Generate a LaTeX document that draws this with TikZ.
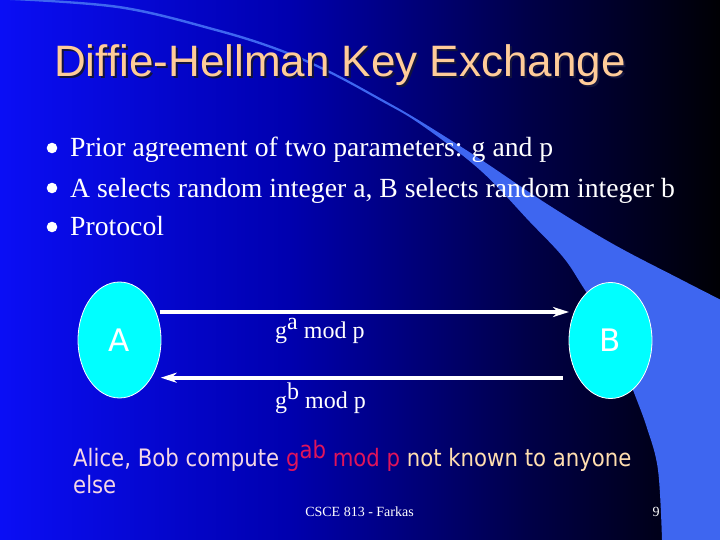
\documentclass[tikz,border=0pt]{standalone}
\usepackage{fontspec}
\setmainfont{Liberation Serif}
\newfontfamily\titlefont{Liberation Sans}
\newfontfamily\tahomalike[FakeStretch=0.885]{DejaVu Sans}
\newfontfamily\letterfont{DejaVu Sans}
\usetikzlibrary{arrows.meta,calc,shapes.geometric}
\definecolor{bgA}{RGB}{10,14,245}
\definecolor{bgB}{RGB}{0,0,175}
\definecolor{bgC}{RGB}{0,0,70}
\definecolor{bgD}{RGB}{0,0,4}
\definecolor{bandc}{RGB}{62,102,240}
\definecolor{titlec}{RGB}{255,204,153}
\definecolor{titleshadowc}{RGB}{20,20,60}
\definecolor{alicec}{RGB}{245,215,228}
\definecolor{gabc}{RGB}{225,20,90}
\definecolor{notc}{RGB}{255,222,175}
\definecolor{partyc}{RGB}{0,255,255}
\pgfdeclarehorizontalshading{slidebg}{100bp}{color(0bp)=(bgA); color(25bp)=(bgA); color(45bp)=(bgB); color(62bp)=(bgC); color(75bp)=(bgD); color(100bp)=(bgD)}
\newcommand{\shadowed}[1]{\rlap{\kern2pt\raisebox{-2pt}{\textcolor{titleshadowc}{#1}}}\textcolor{titlec}{#1}}
\tikzset{
  party/.style={ellipse, draw=white, line width=0.8pt, fill=partyc, minimum width=83pt, minimum height=116pt, inner sep=0pt, text=white, font=\letterfont\fontsize{31}{31}\selectfont},
  msg/.style={draw=white, line width=4pt, -{Stealth[length=16pt,width=10pt,inset=5pt]}},
  bullettext/.style={anchor=base west, inner sep=0pt, text=white, font=\fontsize{27.7}{33}\selectfont},
  bulletdot/.style={fill=white},
  lbl/.style={anchor=base west, inner sep=0pt, text=white, font=\fontsize{24}{28}\selectfont},
  bottomtext/.style={anchor=base west, inner sep=0pt, font=\tahomalike\fontsize{24}{28}\selectfont},
  footer/.style={anchor=base, inner sep=0pt, text=white, font=\fontsize{14}{16}\selectfont}
}
\begin{document}
\begin{tikzpicture}[x=1pt,y=-1pt]
\useasboundingbox (0,0) rectangle (720,540);
\shade[shading=slidebg] (0,0) rectangle (720,540);
% decorative crescent band
\fill[bandc] plot[smooth, tension=0.6] coordinates {(10,-2) (120,6) (217,29) (280,49) (330,71) (380,98) (420,121) (480,159) (547,204) (613,244) (680,279) (725,302)}
  -- (725,545) -- (662,545)
  -- plot[smooth, tension=0.6] coordinates {(662,540) (658,470) (647,428) (633,390) (610,330) (583,287) (563,257) (530,222) (480,170) (420,124) (380,100.5) (330,73.5) (280,51.5) (217,31.5) (120,8.5) (10,0)} -- cycle;
% title
\node[anchor=base west, inner sep=0pt, font=\titlefont\fontsize{44}{50}\selectfont] (title) at (54,77) {\shadowed{Diffie-Hellman Key Exchange}};
% bullets
\fill[bulletdot] (52,148) circle (5.3);
\fill[bulletdot] (52,188) circle (5.3);
\fill[bulletdot] (52,227) circle (5.3);
\node[bullettext] (b1) at (70,157) {Prior agreement of two parameters: g and p};
\node[bullettext] (b2) at (70,197) {A selects random integer a, B selects random integer b};
\node[bullettext] (b3) at (70,236) {Protocol};
% parties
\node[party] (A) at (119.5,340) {A};
\node[party] (B) at (610.5,340.5) {B};
% messages
\draw[msg] ([shift={(40,-28)}]A.center) -- ([shift={(-41.5,-28.5)}]B.center);
\draw[msg] ([shift={(-48,37.2)}]B.center) -- ([shift={(41.2,37.7)}]A.center);
\node[lbl] (ga) at (275,338) {g\raisebox{9pt}{a} mod p};
\node[lbl] (gb) at (275,408) {g\raisebox{9pt}{b} mod p};
% conclusion
\node[bottomtext] (c1) at (73,466) {\textcolor{alicec}{Alice, Bob compute }\textcolor{gabc}{g\raisebox{8pt}{ab} mod p} \textcolor{notc}{not known to anyone}};
\node[bottomtext] (c2) at (73,493) {\textcolor{alicec}{else}};
% footer
\node[footer] (foot) at (359.5,516) {CSCE 813 - Farkas};
\node[footer] (num) at (656,516) {9};
\end{tikzpicture}
\end{document}
